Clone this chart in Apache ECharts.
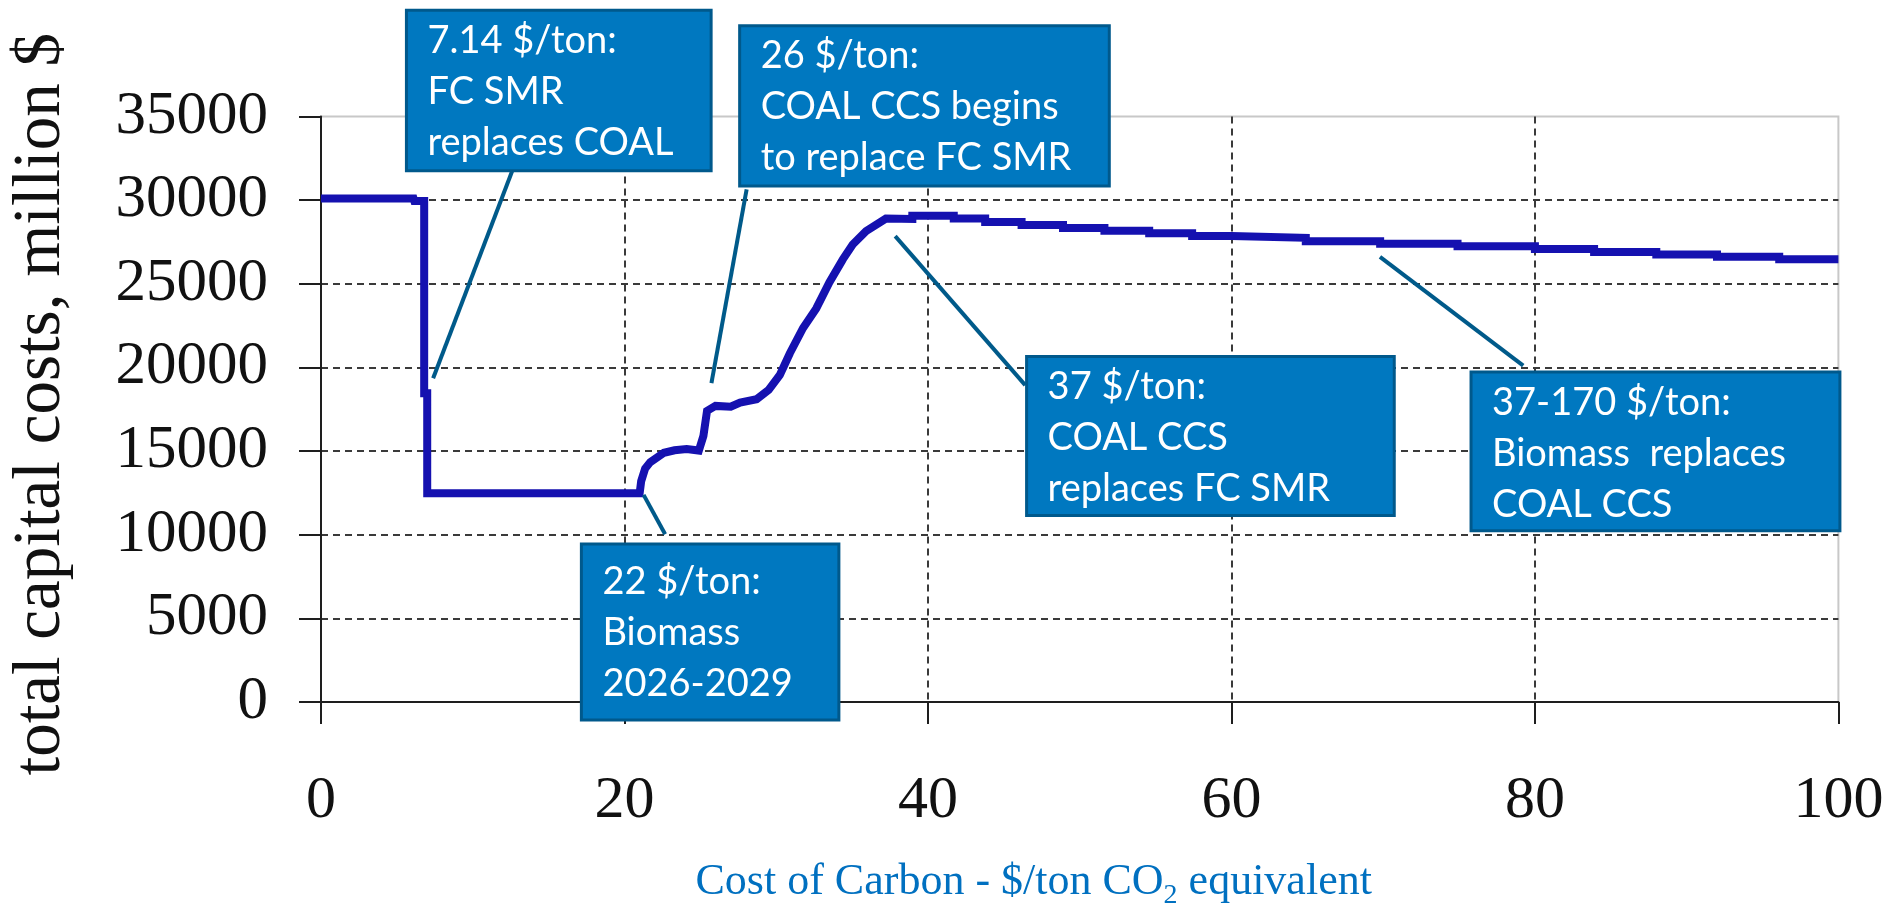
<!DOCTYPE html>
<html>
<head>
<meta charset="utf-8">
<script src="https://cdn.jsdelivr.net/npm/echarts@6/dist/echarts.min.js"></script>
<style>
html,body{margin:0;padding:0;background:#ffffff;}
#chart{width:1893px;height:915px;}
</style>
</head>
<body>
<div id="chart"></div>
<script>
// ---- Data ----
// Cost of carbon ($/ton CO2 eq.)
const carbonCost = [
  0, 6.1, 6.15, 6.8, 6.8, 7.0, 7.0, 21.0, 21.1, 21.36, 21.7, 22.6, 23.3, 24.1, 24.9,
  25.2, 25.44, 26.0, 27.0, 27.62, 28.71, 29.5, 30.24, 30.9, 31.77, 32.64, 33.51, 34.39,
  35.04, 35.92, 37.23, 38.97, 38.97, 41.7, 41.7, 43.77, 43.77, 46.17, 46.17, 48.9, 48.9,
  51.63, 51.63, 54.58, 54.58, 57.41, 57.41, 60, 60, 64.9, 64.9, 69.8, 69.8, 74.9, 74.9,
  80, 80, 83.9, 83.9, 88, 88, 92, 92, 96.1, 96.1, 100
];
// Total capital costs (million $)
const capitalCost = [
  30100, 30100, 29950, 29950, 18450, 18450, 12480, 12480, 13200, 13950, 14340, 14900, 15050, 15120, 15030,
  15900, 17400, 17700, 17650, 17900, 18100, 18650, 19550, 20850, 22360, 23530, 25090, 26460,
  27350, 28150, 28900, 28880, 29060, 29060, 28900, 28900, 28700, 28700, 28510, 28510, 28330,
  28330, 28170, 28170, 28020, 28020, 27860, 27860, 27750, 27750, 27540, 27540, 27400, 27400, 27240,
  27240, 27080, 27080, 26900, 26900, 26750, 26750, 26610, 26610, 26460, 26460
];
// Axis ranges / ticks
const xRange = [0, 100, 20];
const yRange = [0, 35000, 5000];
// Texts
const yTitle = 'total capital costs, million $';
const xTitleParts = ['Cost of Carbon - $/ton CO', '2', ' equivalent'];
const annotationTexts = [
  ['7.14 $/ton:', 'FC SMR', 'replaces COAL'],
  ['26 $/ton:', 'COAL CCS begins', 'to replace FC SMR'],
  ['22 $/ton:', 'Biomass', '2026-2029'],
  ['37 $/ton:', 'COAL CCS', 'replaces FC SMR'],
  ['37-170 $/ton:', 'Biomass  replaces', 'COAL CCS']
];
// Annotation placement, in data coordinates (box corners, leader end points)
const annotationBoxes = [
  [[5.63, 41350], [25.71, 31760]],
  [[27.59, 40430], [51.95, 30840]],
  [[17.16, 9440], [34.13, -1070]],
  [[46.50, 20660], [70.73, 11150]],
  [[75.79, 19720], [100.1, 10230]]
];
const annotationLeaders = [
  [[12.65, 31860], [7.39, 19350]],
  [[28.05, 30640], [25.73, 19060]],
  [[21.26, 12380], [22.68, 10030]],
  [[37.84, 27850], [46.41, 18940]],
  [[69.79, 26610], [79.23, 20110]]
];
const annotationTextOffset = [5, 5, 12, 5, 5];

// ---- Chart ----
const serif = '"Liberation Serif", "Times New Roman", serif';
const seriesData = carbonCost.map((x, i) => [x, capitalCost[i]]);
const chart = echarts.init(document.getElementById('chart'), null, {renderer: 'canvas'});

const axisLineStyle = {color: '#1e1e1e', width: 2};
const gridLineStyle = {type: [7, 5], color: '#3a3a3a', width: 2};

chart.setOption({
  animation: false,
  backgroundColor: '#ffffff',
  grid: {
    left: 310, right: 54.6, top: 116.5, bottom: 202.5,
    show: true, borderColor: '#c8c8c8', borderWidth: 2, backgroundColor: 'transparent'
  },
  xAxis: {
    type: 'value', min: xRange[0], max: xRange[1], interval: xRange[2],
    name: '{a|' + xTitleParts[0] + '}{s|' + xTitleParts[1] + '}{a|' + xTitleParts[2] + '}',
    nameLocation: 'middle', nameGap: 158,
    nameTextStyle: {
      padding: [0, 92, 0, 0],
      rich: {
        a: {fontFamily: serif, fontSize: 44, color: '#0070C0', verticalAlign: 'top', lineHeight: 44},
        s: {fontFamily: serif, fontSize: 28, color: '#0070C0', verticalAlign: 'bottom', lineHeight: 50}
      }
    },
    axisLine: {show: true, onZero: false, lineStyle: axisLineStyle},
    axisTick: {show: true, inside: false, length: 22, lineStyle: axisLineStyle},
    axisLabel: {margin: 69, fontFamily: serif, fontSize: 60, color: '#111111', formatter: v => String(v)},
    splitLine: {show: true, showMinLine: false, showMaxLine: false, lineStyle: gridLineStyle}
  },
  yAxis: {
    type: 'value', min: yRange[0], max: yRange[1], interval: yRange[2],
    name: yTitle, nameLocation: 'middle', nameRotate: 90, nameGap: 246,
    nameTextStyle: {fontFamily: serif, fontSize: 67, color: '#111111', padding: [0, 0, 0, 10]},
    axisLine: {show: true, onZero: false, lineStyle: axisLineStyle},
    axisTick: {show: true, inside: false, length: 22, lineStyle: axisLineStyle},
    axisLabel: {margin: 53, fontFamily: serif, fontSize: 61, color: '#111111', formatter: v => String(v)},
    splitLine: {show: true, showMinLine: false, showMaxLine: false, lineStyle: gridLineStyle}
  },
  series: [{
    type: 'line',
    data: seriesData,
    showSymbol: false,
    symbol: 'none',
    silent: true,
    z: 3,
    lineStyle: {color: '#1511B0', width: 8, join: 'miter'}
  }]
});

// Annotation boxes and leader lines, placed through the chart's own coordinate system
function toPx(p) { return chart.convertToPixel({gridIndex: 0}, p); }
const graphics = [];
annotationTexts.forEach((lines, i) => {
  const l0 = toPx(annotationLeaders[i][0]);
  const l1 = toPx(annotationLeaders[i][1]);
  graphics.push({
    type: 'line', z: 100, silent: true,
    shape: {x1: l0[0], y1: l0[1], x2: l1[0], y2: l1[1]},
    style: {stroke: '#005A8A', lineWidth: 4}
  });
  const b0 = toPx(annotationBoxes[i][0]);
  const b1 = toPx(annotationBoxes[i][1]);
  graphics.push({
    type: 'rect', z: 101, silent: true,
    shape: {x: b0[0], y: b0[1], width: b1[0] - b0[0], height: b1[1] - b0[1]},
    style: {fill: '#0078C0', stroke: '#00598C', lineWidth: 3}
  });
  graphics.push({
    type: 'text', z: 102, silent: true,
    x: b0[0] + 21, y: b0[1] + annotationTextOffset[i],
    style: {
      text: lines.join('\n'), fill: '#ffffff',
      fontFamily: 'Lato, "Open Sans", sans-serif', fontSize: 38, lineHeight: 51,
      verticalAlign: 'top', align: 'left'
    }
  });
});
chart.setOption({graphic: graphics});
</script>
</body>
</html>
